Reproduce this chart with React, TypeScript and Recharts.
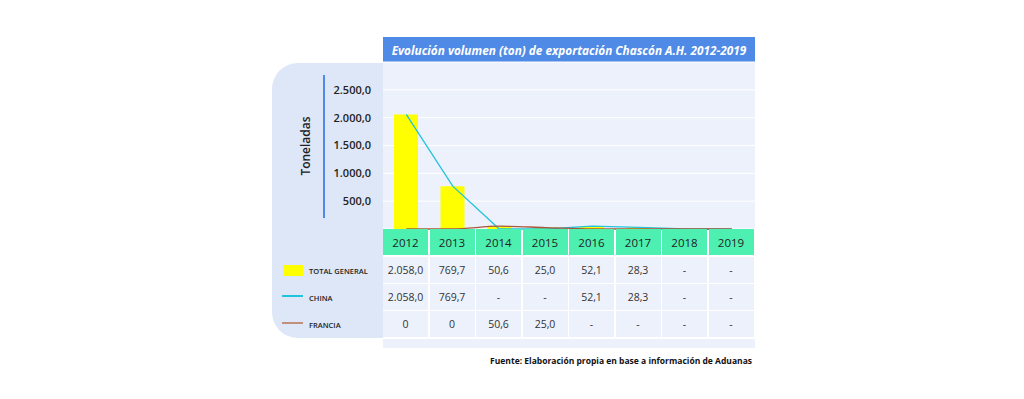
import { ComposedChart, Bar, Line, XAxis, YAxis, CartesianGrid } from "recharts";

// datos de exportación (toneladas); null = sin dato ("-")
const years = ["2012", "2013", "2014", "2015", "2016", "2017", "2018", "2019"];
const totalGeneral = [2058.0, 769.7, 50.6, 25.0, 52.1, 28.3, null, null];
const china = [2058.0, 769.7, null, null, 52.1, 28.3, null, null];
const francia = [0, 0, 50.6, 25.0, null, null, null, null];
const yTicks = [500, 1000, 1500, 2000, 2500];

const seriesNames = ["TOTAL GENERAL", "CHINA", "FRANCIA"];
const FONT = "'Open Sans', sans-serif";
const YELLOW = "#ffff00";
const CYAN = "#22c3dc";
const BROWN = "#a9583a";
const BROWN_LEGEND = "#c0907a";

const fmt = (v: number | null) => {
  if (v === null) return "-";
  if (v === 0) return "0";
  return v.toLocaleString("es-ES", { minimumFractionDigits: 1, maximumFractionDigits: 1, useGrouping: true }).replace(/^(\d)(\d{3}),/, "$1.$2,");
};

const data = years.map((y, i) => ({
  year: y,
  total: totalGeneral[i] ?? 0,
  china: china[i] ?? 0,
  francia: francia[i] ?? 0,
}));

const PLOT_L = 383;
const PLOT_R = 755;
const COL_W = (PLOT_R - PLOT_L) / years.length;

export default function App() {
  const rows = [totalGeneral, china, francia];
  return (
    <div style={{ position: "absolute", left: 0, top: 0, width: 1024, height: 399, background: "#fff", fontFamily: FONT, overflow: "hidden" }}>
      {/* panel izquierdo */}
      <div style={{ position: "absolute", left: 272, top: 63, width: 111, height: 275, background: "#dde7f7", borderRadius: "26px 0 0 26px" }} />
      {/* fondo del gráfico */}
      <div style={{ position: "absolute", left: PLOT_L, top: 62, width: PLOT_R - PLOT_L, height: 167, background: "#edf1fb" }} />
      {/* título */}
      <div style={{ position: "absolute", left: PLOT_L, top: 37, width: PLOT_R - PLOT_L, height: 25, background: "#4f8ae6", color: "#fff", fontSize: 11.8, fontWeight: 700, fontStyle: "italic", display: "flex", alignItems: "center", justifyContent: "center" }}>
        Evolución volumen (ton) de exportación Chascón A.H. 2012-2019
      </div>
      {/* eje Y decorativo */}
      <div style={{ position: "absolute", left: 323, top: 75, width: 2, height: 143, background: "#4f8ae6" }} />
      <div style={{ position: "absolute", left: 305, top: 146, transform: "translate(-50%, -50%) rotate(-90deg)", fontSize: 12, fontWeight: 600, color: "#222", whiteSpace: "nowrap" }}>
        Toneladas
      </div>

      <div style={{ position: "absolute", left: 0, top: 0 }}>
        <ComposedChart width={1024} height={399} data={data} margin={{ top: 62, right: 1024 - PLOT_R, bottom: 170, left: PLOT_L - 60 }}>
          <CartesianGrid horizontal vertical={false} stroke="#ffffff" strokeWidth={1} />
          <XAxis dataKey="year" hide />
          <YAxis width={60} domain={[0, 3000]} ticks={yTicks} axisLine={false} tickLine={false} tickMargin={6}
            tick={{ fontSize: 11, fill: "#222", fontFamily: FONT, fontWeight: 600 }}
            tickFormatter={(v: number) => fmt(v)} />
          <Bar dataKey="total" fill={YELLOW} barSize={24} isAnimationActive={false} />
          <Line dataKey="china" type="linear" stroke={CYAN} strokeWidth={1.3} dot={false} isAnimationActive={false} />
          <Line dataKey="francia" type="monotone" stroke={BROWN} strokeWidth={1.3} dot={false} isAnimationActive={false} />
        </ComposedChart>
      </div>

      {/* cabecera de años */}
      {years.map((y, i) => (
        <div key={y} style={{ position: "absolute", left: PLOT_L + i * COL_W, top: 229, width: COL_W - 1.5, height: 26, background: "#4ef0b2", fontSize: 11.5, color: "#222", display: "flex", alignItems: "center", justifyContent: "center" }}>
          {y}
        </div>
      ))}
      {/* filas de valores */}
      {rows.map((r, ri) =>
        r.map((v, i) => (
          <div key={`${ri}-${i}`} style={{ position: "absolute", left: PLOT_L + i * COL_W, top: 257 + ri * 27, width: COL_W - 1.5, height: 26, background: "#edf1fb", fontSize: 10.5, color: "#333", display: "flex", alignItems: "center", justifyContent: "center" }}>
            {fmt(v)}
          </div>
        ))
      )}
      <div style={{ position: "absolute", left: PLOT_L, top: 339, width: PLOT_R - PLOT_L, height: 9, background: "#edf1fb" }} />

      {/* leyenda */}
      <div style={{ position: "absolute", left: 283, top: 265, width: 20, height: 11, background: YELLOW }} />
      <div style={{ position: "absolute", left: 282, top: 295, width: 21, height: 2, background: CYAN }} />
      <div style={{ position: "absolute", left: 282, top: 322, width: 21, height: 2, background: BROWN_LEGEND }} />
      {seriesNames.map((n, i) => (
        <div key={n} style={{ position: "absolute", left: 309, top: 264 + i * 27, height: 13, fontSize: 7.5, fontWeight: 600, color: "#222", display: "flex", alignItems: "center", whiteSpace: "nowrap" }}>
          {n}
        </div>
      ))}

      {/* fuente */}
      <div style={{ position: "absolute", right: 1024 - 752, top: 355, fontSize: 8.5, fontWeight: 700, color: "#111", whiteSpace: "nowrap" }}>
        Fuente: Elaboración propia en base a información de Aduanas
      </div>
    </div>
  );
}
